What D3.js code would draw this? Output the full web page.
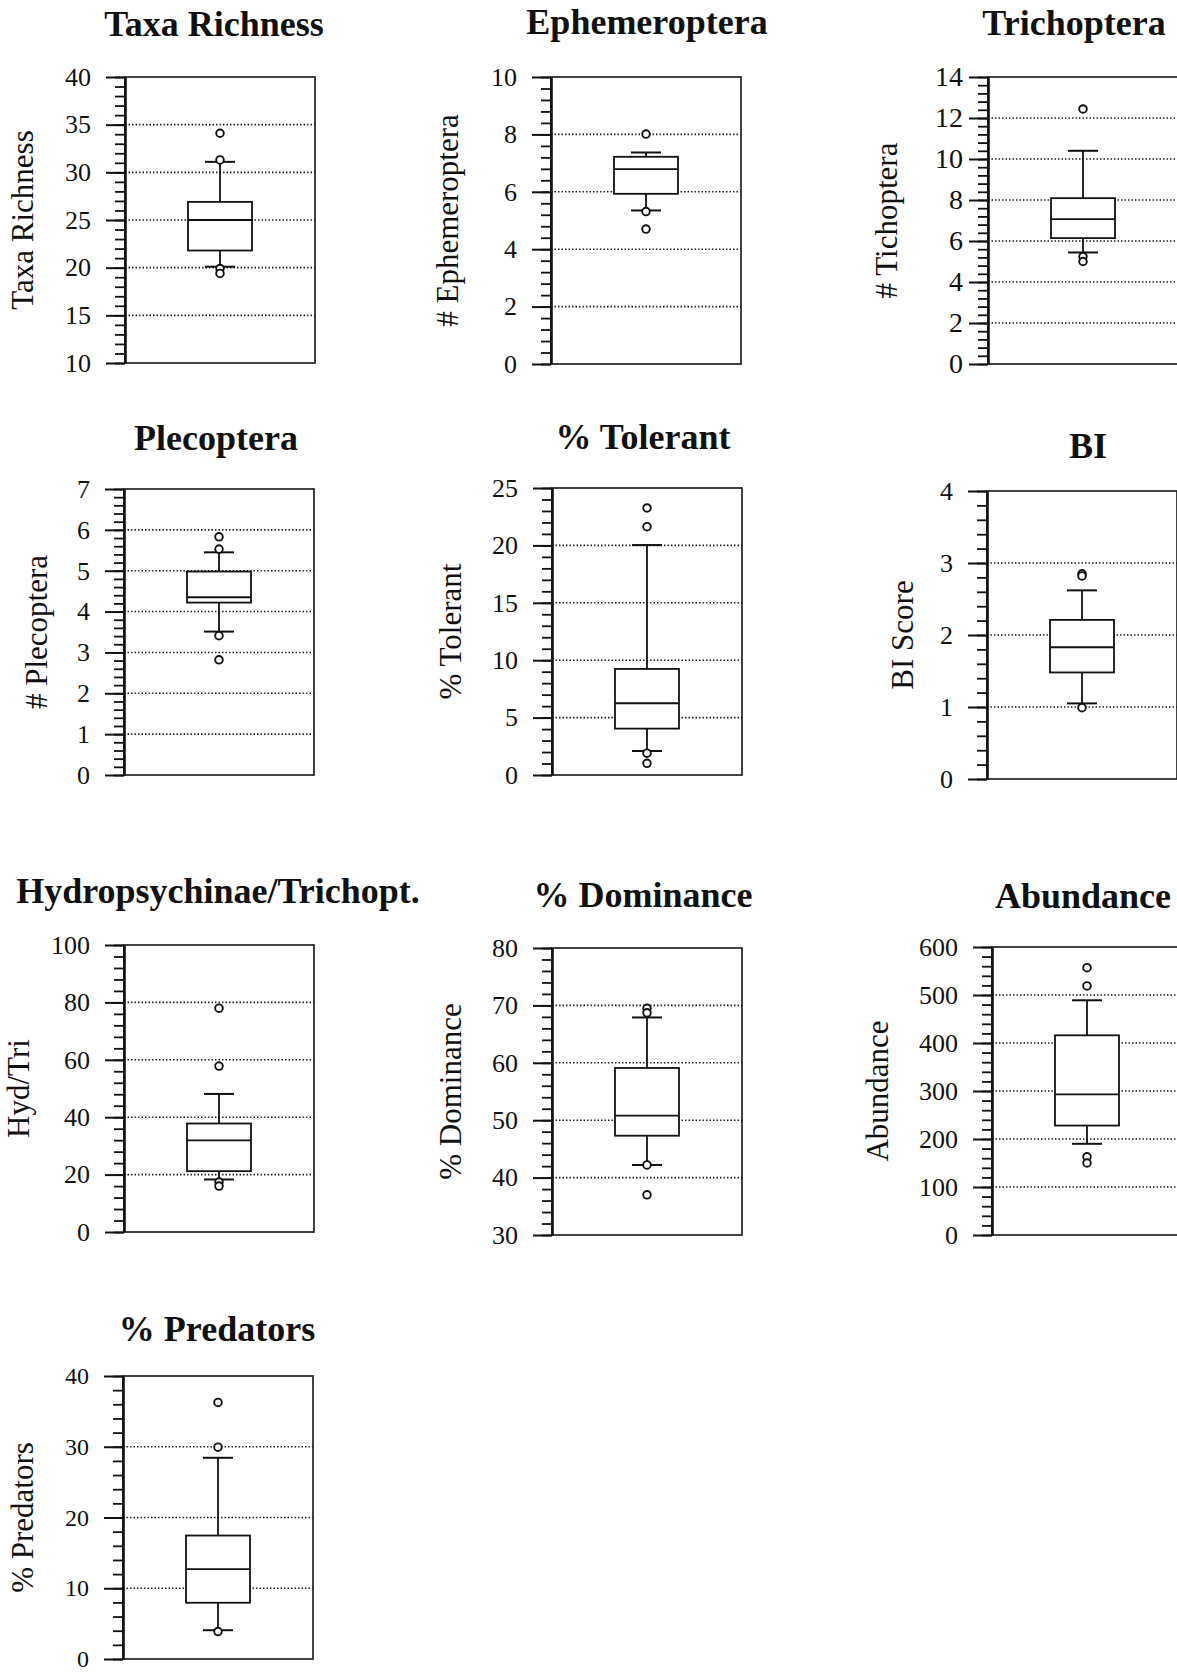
<!DOCTYPE html>
<html>
<head>
<meta charset="utf-8">
<script src="https://cdn.jsdelivr.net/npm/d3@7"></script>
<style>
body { margin: 0; background: #fff; }
text { font-family: "Liberation Serif", "Times New Roman", serif; fill: #111; }
</style>
</head>
<body>
<svg id="chart" width="1177" height="1673"></svg>
<script>
// values, one entry per panel
const titles = ["Taxa Richness", "Ephemeroptera", "Trichoptera", "Plecoptera", "% Tolerant",
                "BI", "Hydropsychinae/Trichopt.", "% Dominance", "Abundance", "% Predators"];
const yLabels = ["Taxa Richness", "# Ephemeroptera", "# Tichoptera", "# Plecoptera", "% Tolerant",
                 "BI Score", "Hyd/Tri", "% Dominance", "Abundance", "% Predators"];
const yMin = [10, 0, 0, 0, 0, 0, 0, 30, 0, 0];
const yMax = [40, 10, 14, 7, 25, 4, 100, 80, 600, 40];
const majorStep = [5, 2, 2, 1, 5, 1, 20, 10, 100, 10];

const whiskerLow  = [20.1, 5.35, 5.44, 3.51, 2.09, 1.05, 18.3, 42.2, 190, 4.07];
const q1          = [21.8, 5.93, 6.14, 4.22, 4.04, 1.48, 21.2, 47.3, 228, 7.95];
const median      = [25.0, 6.79, 7.07, 4.35, 6.25, 1.83, 31.9, 50.8, 293, 12.7];
const q3          = [26.9, 7.22, 8.09, 4.98, 9.24, 2.21, 37.8, 59.1, 416, 17.45];
const whiskerHigh = [31.1, 7.37, 10.4, 5.45, 20.03, 2.62, 48.1, 67.9, 489, 28.44];
const outliers = [
  [34.1, 31.3, 19.9, 19.4],
  [8.01, 5.31, 4.70],
  [12.44, 5.24, 5.0],
  [5.83, 5.53, 3.41, 2.82],
  [23.26, 21.63, 1.9, 1.02],
  [2.85, 2.82, 0.99],
  [78.0, 57.8, 17.4, 16.0],
  [69.5, 68.7, 42.2, 37.0],
  [557, 519, 163, 150],
  [36.26, 29.94, 3.88]
];

// page layout of each panel
const panels = [
  {left: 125, top: 77,   bottom: 363,  titleX: 214,  titleY: 36,   labelX: 33},
  {left: 551, top: 77,   bottom: 364,  titleX: 647,  titleY: 34,   labelX: 458},
  {left: 988, top: 77,   bottom: 364,  titleX: 1074, titleY: 35,   labelX: 897, tickFont: 28, tickPad: 6},
  {left: 124, top: 489,  bottom: 775,  titleX: 216,  titleY: 450,  labelX: 47},
  {left: 552, top: 488,  bottom: 775,  titleX: 643,  titleY: 449,  labelX: 461},
  {left: 987, top: 491,  bottom: 779,  titleX: 1088, titleY: 458,  labelX: 913},
  {left: 124, top: 945,  bottom: 1232, titleX: 218,  titleY: 903,  labelX: 29},
  {left: 552, top: 948,  bottom: 1235, titleX: 643,  titleY: 907,  labelX: 461},
  {left: 992, top: 947,  bottom: 1235, titleX: 1083, titleY: 908,  labelX: 888},
  {left: 123, top: 1376, bottom: 1659, titleX: 217,  titleY: 1341, labelX: 33, tickFont: 24}
];

const plotW = 190, boxW = 64, capW = 30;
const svg = d3.select("#chart");

titles.forEach((title, i) => {
  const p = panels[i];
  const y = d3.scaleLinear().domain([yMin[i], yMax[i]]).range([p.bottom, p.top]);
  const cx = p.left + plotW / 2;
  const nMaj = Math.round((yMax[i] - yMin[i]) / majorStep[i]);
  const majors = d3.range(0, nMaj + 1).map(k => yMin[i] + k * majorStep[i]);
  const minors = d3.range(0, nMaj * 5 + 1).map(k => yMin[i] + k * majorStep[i] / 5);

  const g = svg.append("g");

  // dotted grid at the inner major ticks
  g.selectAll("line.grid").data(majors.slice(1, -1)).join("line")
    .attr("class", "grid")
    .attr("x1", p.left).attr("x2", p.left + plotW)
    .attr("y1", d => y(d)).attr("y2", d => y(d))
    .attr("stroke", "#222").attr("stroke-width", 1.6)
    .attr("stroke-dasharray", "1.5,2");

  // frame
  g.append("rect")
    .attr("x", p.left).attr("y", p.top)
    .attr("width", plotW).attr("height", p.bottom - p.top)
    .attr("fill", "none").attr("stroke", "#222").attr("stroke-width", 1.7);

  // minor ticks
  const minorAxis = g.append("g")
    .attr("transform", `translate(${p.left},0)`)
    .call(d3.axisLeft(y).tickValues(minors).tickSize(10).tickSizeOuter(0).tickFormat(""));
  minorAxis.select(".domain").remove();
  minorAxis.selectAll("line").attr("stroke", "#111").attr("stroke-width", 1.8);

  // major ticks and labels
  const majorAxis = g.append("g")
    .attr("transform", `translate(${p.left},0)`)
    .call(d3.axisLeft(y).tickValues(majors).tickSize(19).tickSizeOuter(0)
      .tickPadding(p.tickPad || 15).tickFormat(d3.format("d")));
  majorAxis.select(".domain").attr("stroke", "#111").attr("stroke-width", 2.6);
  majorAxis.selectAll("line").attr("stroke", "#111").attr("stroke-width", 2);
  majorAxis.selectAll("text")
    .style("font-family", '"Liberation Serif", "Times New Roman", serif')
    .style("font-size", (p.tickFont || 26) + "px")
    .attr("fill", "#111");

  // whiskers
  g.append("line")
    .attr("x1", cx).attr("x2", cx)
    .attr("y1", y(q3[i])).attr("y2", y(whiskerHigh[i]))
    .attr("stroke", "#111").attr("stroke-width", 1.8);
  g.append("line")
    .attr("x1", cx).attr("x2", cx)
    .attr("y1", y(q1[i])).attr("y2", y(whiskerLow[i]))
    .attr("stroke", "#111").attr("stroke-width", 1.8);
  g.selectAll("line.cap").data([whiskerLow[i], whiskerHigh[i]]).join("line")
    .attr("class", "cap")
    .attr("x1", cx - capW / 2).attr("x2", cx + capW / 2)
    .attr("y1", d => y(d)).attr("y2", d => y(d))
    .attr("stroke", "#111").attr("stroke-width", 2);

  // box and median
  g.append("rect")
    .attr("x", cx - boxW / 2).attr("y", y(q3[i]))
    .attr("width", boxW).attr("height", y(q1[i]) - y(q3[i]))
    .attr("fill", "#fff").attr("stroke", "#111").attr("stroke-width", 1.8);
  g.append("line")
    .attr("x1", cx - boxW / 2).attr("x2", cx + boxW / 2)
    .attr("y1", y(median[i])).attr("y2", y(median[i]))
    .attr("stroke", "#111").attr("stroke-width", 1.8);

  // outliers
  g.selectAll("circle").data(outliers[i]).join("circle")
    .attr("cx", cx).attr("cy", d => y(d)).attr("r", 3.8)
    .attr("fill", "#fff").attr("stroke", "#111").attr("stroke-width", 1.9);

  // title and y label
  g.append("text")
    .attr("x", p.titleX).attr("y", p.titleY)
    .attr("text-anchor", "middle")
    .style("font-size", "36px").style("font-weight", "bold")
    .text(title);
  g.append("text")
    .attr("transform", `translate(${p.labelX},${(p.top + p.bottom) / 2}) rotate(-90)`)
    .attr("text-anchor", "middle")
    .style("font-size", "31px")
    .text(yLabels[i]);
});
</script>
</body>
</html>
